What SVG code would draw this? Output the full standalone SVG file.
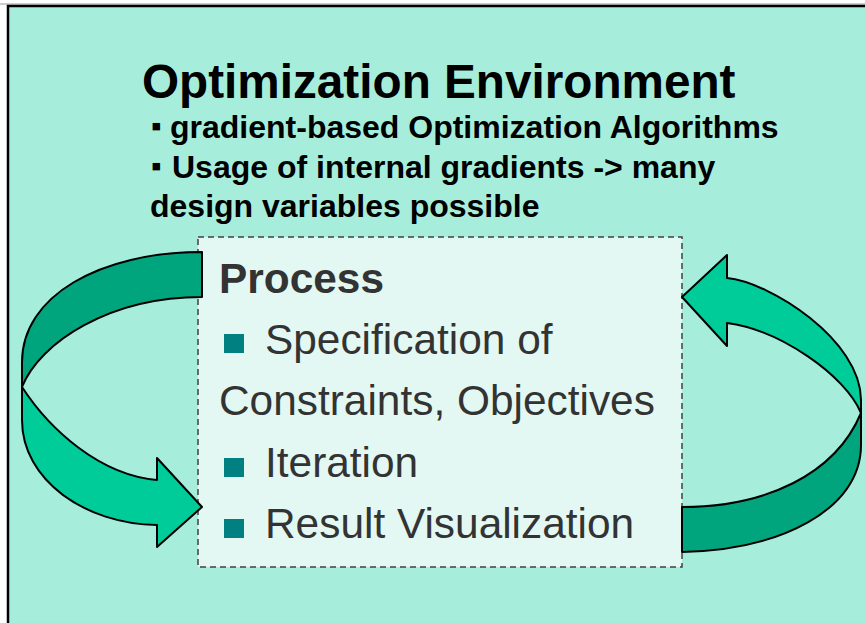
<svg xmlns="http://www.w3.org/2000/svg" width="865" height="623" viewBox="0 0 865 623">
<style>
.hd{font-family:"Liberation Sans",Arial,sans-serif;font-weight:bold;fill:#000}
.bl{font-size:30px}
.bx{font-family:"Liberation Sans",Arial,sans-serif;fill:#333;font-size:42.4px}
.dark{fill:#00A57D;stroke:#000;stroke-width:2;stroke-linejoin:round}
.bright{fill:#00CC99;stroke:#000;stroke-width:2;stroke-linejoin:round}
.sq{fill:#008080}
</style>
<rect x="0" y="0" width="865" height="623" fill="#fff"/>
<rect x="0" y="3" width="865" height="2" fill="#ccc"/>
<g id="frame">
<rect x="8" y="6" width="900" height="700" fill="#A6EEDB" stroke="#000" stroke-width="2.5"/>
</g>
<g id="header">
<text class="hd" x="142" y="98" font-size="47.7">Optimization Environment</text>
<text class="hd" x="151" y="138" font-size="32"><tspan class="bl" dy="-2">▪</tspan><tspan x="170" dy="2">gradient-based Optimization Algorithms</tspan></text>
<text class="hd" x="151" y="178" font-size="32"><tspan class="bl" dy="-2">▪</tspan><tspan x="172" dy="2">Usage of internal gradients -&gt; many</tspan></text>
<text class="hd" x="150" y="217" font-size="32">design variables possible</text>
</g>
<g id="process">
<rect x="198" y="237" width="484" height="330" fill="#E3F8F2" stroke="#404040" stroke-width="1.5" stroke-dasharray="6 4"/>
<text class="bx" x="219" y="293" font-weight="bold">Process</text>
<rect class="sq" x="224" y="334" width="20" height="19"/>
<text class="bx" x="265" y="354">Specification of</text>
<text class="bx" x="219" y="415">Constraints, Objectives</text>
<rect class="sq" x="224" y="458" width="20" height="19"/>
<text class="bx" x="265" y="477">Iteration</text>
<rect class="sq" x="224" y="519" width="20" height="19"/>
<text class="bx" x="265" y="538">Result Visualization</text>
</g>
<g id="connectors">
<path class="dark" d="M202,252 C100,252 22,296 22,362 L22,387 C40,342 110,297 202,297 Z"/>
<path class="bright" d="M22,387 L22,420 C22,480 85,524 157,525 L157,547 L202,507 L157,458 L157,480 C100,475 50,430 22,387 Z"/>
<path class="bright" d="M682,297 L727,255 L727,278 C770,282 861,340 861,400 L861,413 C845,375 780,330 727,323 L727,346 Z"/>
<path class="dark" d="M861,413 L861,445 C861,510 780,550 682,552 L682,507 C765,507 835,475 861,413 Z"/>
</g>
</svg>
